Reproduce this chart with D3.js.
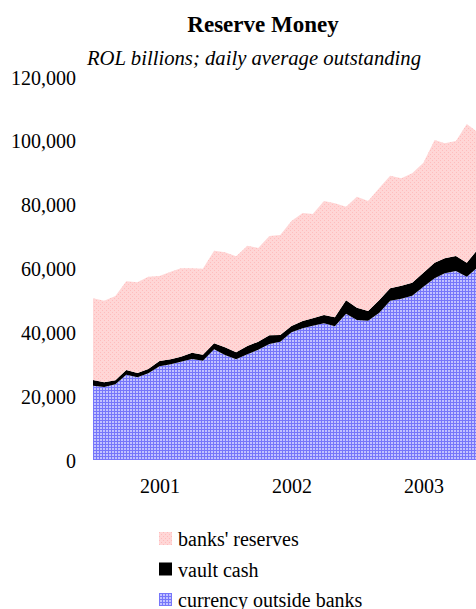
<!DOCTYPE html>
<html>
<head>
<meta charset="utf-8">
<script src="https://cdn.jsdelivr.net/npm/d3@7"></script>
<style>
  html, body { margin: 0; padding: 0; background: #fff; }
  svg { display: block; font-family: "Liberation Serif", "Times New Roman", serif; }
</style>
</head>
<body>
<svg id="chart" width="476" height="609"></svg>
<script>
// Monthly observations, July 2000 – June 2003 (ROL billions)
const months = d3.range(36).map(i => new Date(2000, 6 + i, 1));

const currency = [
  23280, 22870, 23720, 26720, 25910, 27160, 29360, 29980, 30800, 31640, 31110, 34680,
  32900, 31550, 33120, 34560, 36340, 37060, 40010, 41260, 42080, 42830, 41890, 45840,
  43860, 43640, 46150, 49910, 50540, 51480, 54300, 56930, 58490, 59210, 57430, 60470
];
const vaultCash = [
  1780, 1470, 1250, 1480, 1350, 1350, 1660, 1570, 1560, 1980, 1880, 1880,
  2410, 2190, 2600, 2500, 2730, 2100, 1970, 2290, 2310, 2600, 2820, 4190,
  3860, 3040, 3980, 3880, 4070, 4070, 4380, 4880, 4700, 4700, 4380, 5640
];
const banksReserves = [
  25600, 25570, 26410, 27790, 28410, 28920, 26630, 27450, 27700, 26440, 26950, 29020,
  29760, 30080, 31420, 29360, 31110, 31330, 32900, 33840, 32680, 35720, 35710, 29330,
  34770, 34470, 35090, 35280, 33640, 34270, 34460, 38450, 36030, 36030, 43460, 36500
];

const yTicks = [0, 20000, 40000, 60000, 80000, 100000, 120000];
const yearTicks = [new Date(2001, 0, 1), new Date(2002, 0, 1), new Date(2003, 0, 1)];

const seriesKeys = ["currency", "vault", "reserves"];
const seriesNames = {
  reserves: "banks' reserves",
  vault: "vault cash",
  currency: "currency outside banks"
};

const rows = months.map((m, i) => ({
  date: m,
  currency: currency[i],
  vault: vaultCash[i],
  reserves: banksReserves[i]
}));

const svg = d3.select("#chart");

// Fill patterns
const defs = svg.append("defs");
const pink = defs.append("pattern")
  .attr("id", "pat-reserves").attr("patternUnits", "userSpaceOnUse")
  .attr("width", 4).attr("height", 4);
pink.append("rect").attr("width", 4).attr("height", 4).attr("fill", "#ffd6d6");
pink.append("rect").attr("x", 0).attr("y", 0).attr("width", 1).attr("height", 1).attr("fill", "#ffbcbc");
pink.append("rect").attr("x", 2).attr("y", 2).attr("width", 1).attr("height", 1).attr("fill", "#ffbcbc");

const blue = defs.append("pattern")
  .attr("id", "pat-currency").attr("patternUnits", "userSpaceOnUse")
  .attr("width", 3).attr("height", 3);
blue.append("rect").attr("width", 3).attr("height", 3).attr("fill", "#c2c2ff");
blue.append("rect").attr("x", 0).attr("y", 0).attr("width", 3).attr("height", 1).attr("fill", "#7676fa");
blue.append("rect").attr("x", 0).attr("y", 0).attr("width", 1).attr("height", 3).attr("fill", "#7676fa");

const fills = {
  reserves: "url(#pat-reserves)",
  vault: "#000000",
  currency: "url(#pat-currency)"
};

const x = d3.scaleTime()
  .domain([months[0], months[months.length - 1]])
  .range([93, 478]);
const y = d3.scaleLinear()
  .domain([0, 120000])
  .range([460, 77]);

const stack = d3.stack().keys(seriesKeys);
const layers = stack(rows);

const area = d3.area()
  .x(d => x(d.data.date))
  .y0(d => y(d[0]))
  .y1(d => y(d[1]));

svg.append("g").selectAll("path")
  .data(layers)
  .join("path")
  .attr("d", area)
  .attr("fill", d => fills[d.key]);

// Value axis (labels only)
const yAxis = svg.append("g")
  .attr("transform", "translate(76,0)")
  .call(d3.axisLeft(y).tickValues(yTicks).tickFormat(d3.format(",")).tickSize(0).tickPadding(0));
yAxis.select(".domain").remove();
yAxis.selectAll("text")
  .attr("font-family", "Liberation Serif")
  .attr("font-size", 20)
  .attr("fill", "#000")
  .attr("dy", "0.35em");

// Year labels
const xAxis = svg.append("g")
  .attr("transform", "translate(0,479)")
  .call(d3.axisBottom(x).tickValues(yearTicks).tickFormat(d3.timeFormat("%Y")).tickSize(0).tickPadding(0));
xAxis.select(".domain").remove();
xAxis.selectAll("text")
  .attr("font-family", "Liberation Serif")
  .attr("font-size", 20)
  .attr("fill", "#000")
  .attr("dy", "0.71em");

// Titles
svg.append("text")
  .attr("x", 263).attr("y", 32)
  .attr("text-anchor", "middle")
  .attr("font-size", 23).attr("font-weight", "bold")
  .text("Reserve Money");
svg.append("text")
  .attr("x", 254).attr("y", 65)
  .attr("text-anchor", "middle")
  .attr("font-size", 20.7).attr("font-style", "italic")
  .text("ROL billions; daily average outstanding");

// Legend
const legendOrder = ["reserves", "vault", "currency"];
const legend = svg.append("g").attr("transform", "translate(159,532)");
const item = legend.selectAll("g")
  .data(legendOrder)
  .join("g")
  .attr("transform", (d, i) => `translate(0,${i * 30.5})`);
item.append("rect")
  .attr("width", 13).attr("height", 13)
  .attr("fill", d => fills[d]);
item.append("text")
  .attr("x", 19).attr("y", 14)
  .attr("font-size", 20)
  .text(d => seriesNames[d]);
</script>
</body>
</html>
